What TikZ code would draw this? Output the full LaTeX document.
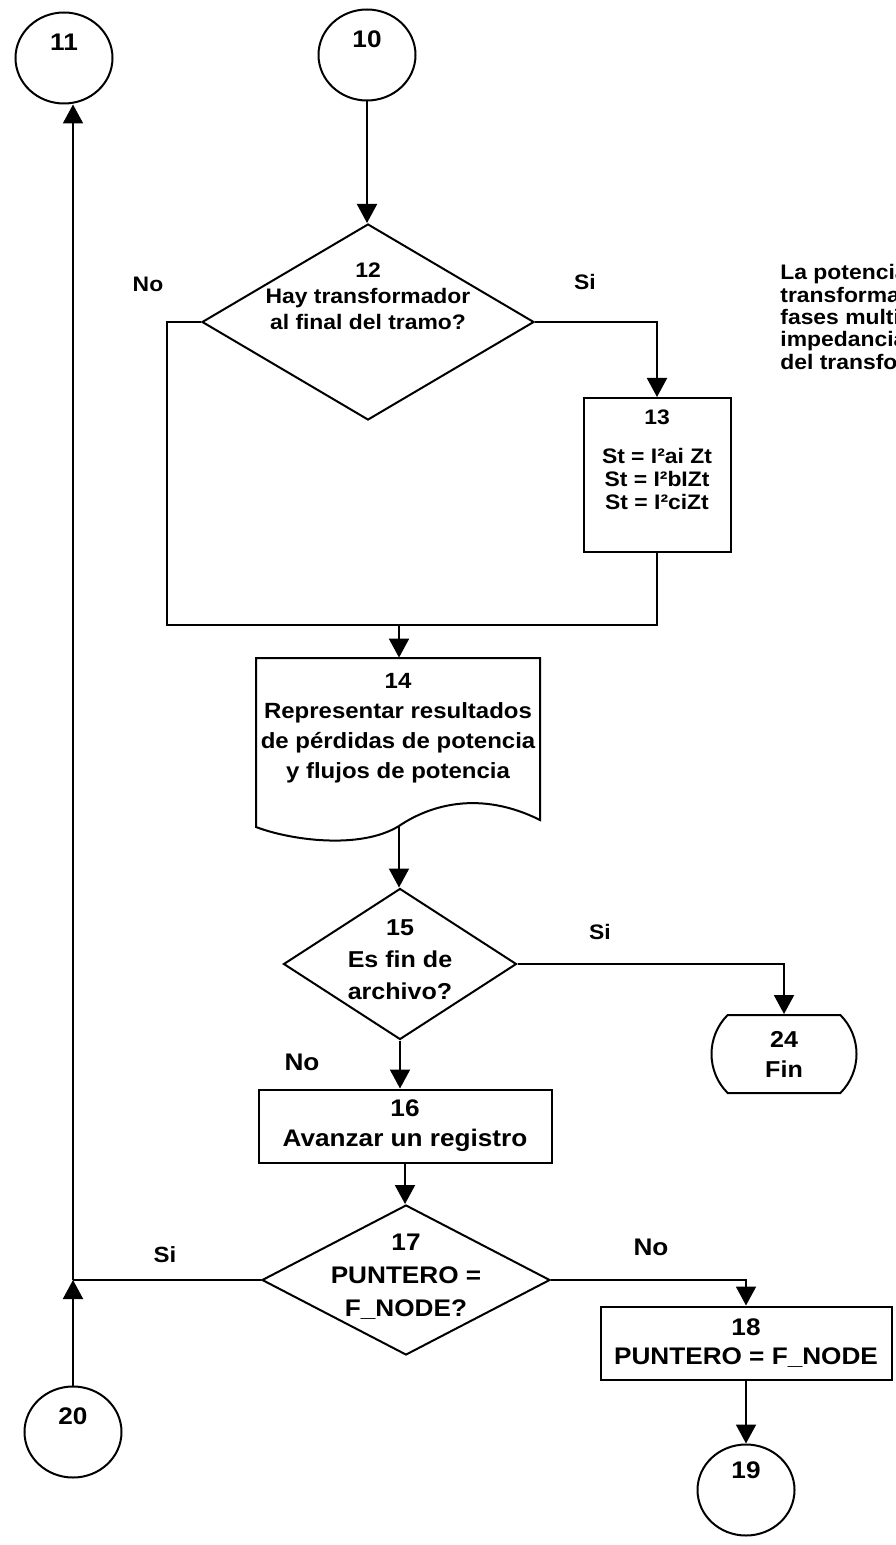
\documentclass[tikz,border=0pt]{standalone}
\usepackage{fontspec}
\setmainfont{Liberation Sans}[FakeStretch=1.09]
\usetikzlibrary{positioning, arrows.meta, shapes.geometric, shapes.misc}

\begin{document}
\begin{tikzpicture}[
 x=0.5pt, y=-0.5pt,
 font=\fontsize{10.5}{15}\selectfont\bfseries,
 process/.style={rectangle, draw=black, line width=1pt, align=center, inner sep=0pt},
 decision/.style={diamond, draw=black, line width=1pt, inner sep=0pt},
 connector/.style={ellipse, draw=black, line width=1pt, minimum width=48.5pt,
   minimum height=45.5pt, text depth=16pt, inner sep=0pt,
   font=\fontsize{12}{15}\selectfont\bfseries},
 terminal/.style={rounded rectangle, rounded rectangle arc length=90, draw=black,
   line width=1pt, align=center, inner sep=0pt, minimum width=72.5pt, minimum height=39pt},
 txt/.style={align=center, inner sep=0pt},
 big/.style={font=\fontsize{12}{15}\selectfont\bfseries},
 note/.style={align=left, inner sep=0pt, anchor=north west,
   font=\fontsize{10.5}{11.2}\selectfont\bfseries},
 flow_edge/.style={-{Triangle[length=9.5pt, width=10pt]}, line width=1pt, draw=black},
 plain_edge/.style={line width=1pt, draw=black}
]
\useasboundingbox (0,0) rectangle (895,1545);
\clip (0,0) rectangle (895,1545);

\node[connector] (c11) at (64,58) {11};
\node[connector] (c10) at (367,55) {10};
\node[decision, minimum width=166pt, minimum height=98pt] (d12) at (368,322) {};
\node[txt, font=\fontsize{10.5}{13}\selectfont\bfseries] (d12t) at (368,296)
  {12\\Hay transformador\\al final del tramo?};
\node[process, minimum width=73.5pt, minimum height=77pt] (b13) at (657,475) {};
\node[txt, font=\fontsize{10.5}{11.5}\selectfont\bfseries] (b13t) at (657,460)
  {13\\[8pt]St = I²ai Zt\\St = I²bIZt\\St = I²ciZt};
\coordinate (m14) at (399,625);
\node[txt, minimum width=142pt, minimum height=70pt,
  font=\fontsize{11}{15}\selectfont\bfseries] (p14) at (398,728)
  {14\\Representar resultados\\de pérdidas de potencia\\y flujos de potencia};
\draw[plain_edge] (256,827) -- (256,658) -- (540,658) -- (540,820)
  .. controls (480,790) and (430,805) .. (399,826)
  .. controls (360,850) and (290,840) .. (256,827) -- cycle;
\coordinate (p14b) at (399,826);
\node[decision, minimum width=116.5pt, minimum height=75.5pt] (d15) at (400,964) {};
\node[txt, font=\fontsize{11.5}{16}\selectfont\bfseries] (d15t) at (400,960)
  {15\\Es fin de\\archivo?};
\node[terminal, font=\fontsize{11.5}{15}\selectfont\bfseries] (t24) at (784,1054) {24\\Fin};
\node[process, big, minimum width=146.5pt, minimum height=36.5pt] (b16) at (405,1126)
  {16\\Avanzar un registro};
\node[decision, minimum width=144pt, minimum height=75pt] (d17) at (406,1280) {};
\node[txt, font=\fontsize{12}{16.5}\selectfont\bfseries] (d17t) at (406,1277)
  {17\\PUNTERO =\\F\_NODE?};
\node[process, minimum width=145.5pt, minimum height=36.5pt,
  font=\fontsize{12}{14.5}\selectfont\bfseries] (b18) at (746,1343)
  {18\\PUNTERO = F\_NODE};
\node[connector] (c20) at (73,1432) {20};
\node[connector, text depth=20pt] (c19) at (746,1490) {19};

\node[txt] (no12) at (148,284) {No};
\node[txt] (si12) at (585,282) {Si};
\node[txt] (si15) at (600,932) {Si};
\node[txt, big] (no15) at (302,1062) {No};
\node[txt, font=\fontsize{11}{15}\selectfont\bfseries] (si17) at (165,1255) {Si};
\node[txt, big] (no17) at (651,1247) {No};
\node[note] (nota) at (780,264) {La potencia\\transforma\\fases multi\\impedancia\\del transfo};

\draw[flow_edge] (c10.south) -- (c10.south |- d12.north);
\draw[plain_edge] (d12.west) -- ++(-34,0) |- (m14);
\draw[flow_edge] (d12.east) -| (b13.north);
\draw[plain_edge] (b13.south) |- (m14);
\draw[flow_edge] (m14) -- (m14 |- p14.north);
\draw[flow_edge] (p14b) -- (p14b |- d15.north);
\draw[flow_edge] (d15.east) -| (t24.north);
\draw[flow_edge] (d15.south) -- (d15.south |- b16.north);
\draw[flow_edge] (b16.south) -- (b16.south |- d17.north);
\draw[flow_edge] (d17.east) -| (b18.north);
\draw[flow_edge] (b18.south) -- (c19.north);
\coordinate (j20) at (c20.north |- d17.west);
\draw[plain_edge] (d17.west) -- (j20);
\draw[flow_edge] (c20.north) -- (j20);
\draw[flow_edge] (j20) -- (j20 |- c11.south);
\end{tikzpicture}
\end{document}
